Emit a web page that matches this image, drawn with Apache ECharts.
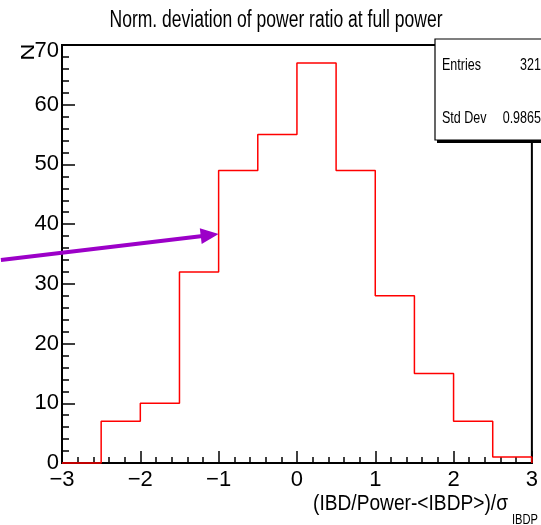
<!DOCTYPE html>
<html>
<head>
<meta charset="utf-8">
<style>html,body{margin:0;padding:0;background:#fff;}#c{width:541px;height:525px;}</style>
<script src="https://cdn.jsdelivr.net/npm/echarts@6/dist/echarts.min.js"></script>
</head>
<body>
<div id="c"></div>
<script>
const binEdges = [-3, -2.5, -2, -1.5, -1, -0.5, 0, 0.5, 1, 1.5, 2, 2.5, 3];
const counts = [0, 7, 10, 32, 49, 55, 67, 49, 28, 15, 7, 1];
const xTicks = [-3, -2, -1, 0, 1, 2, 3];
const yTicks = [0, 10, 20, 30, 40, 50, 60, 70];
const statsLabels = ['Entries', 'Std Dev'];
const statsValues = ['321', '0.9865'];
const arrowFrom = [-3.78, 34.0];
const arrowTo = [-1.0, 38.35];
const titleText = 'Norm. deviation of power ratio at full power';
const xTitleMain = '(IBD/Power-<IBDP>)/σ';
const xTitleSub = 'IBDP';
const yTitle = 'N';

const FAM = "'Liberation Sans', Arial, Helvetica, sans-serif";

const histData = [];
for (let i = 0; i < counts.length; i++) histData.push([binEdges[i], counts[i]]);
histData.push([binEdges[binEdges.length - 1], 0]);

const mctx = document.createElement('canvas').getContext('2d');
function fit(text, size, targetW) {
  mctx.font = size + 'px ' + FAM;
  return targetW / mctx.measureText(text).width;
}
function txt(text, size, x, y, align, sx, rot) {
  return {type: 'text', z: 62, x: x, y: y, scaleX: rot ? 1 : sx, scaleY: rot ? sx : 1, rotation: rot || 0,
    style: {text: text, font: size + 'px ' + FAM, fill: '#000', align: align, verticalAlign: 'middle'}};
}

const chart = echarts.init(document.getElementById('c'), null, {renderer: 'canvas'});

const option = {
  animation: false,
  backgroundColor: '#fff',
  grid: {left: 62, right: 2, top: 45, bottom: 62, show: true, borderColor: '#000', borderWidth: 2, backgroundColor: 'transparent'},
  xAxis: {
    type: 'value', min: xTicks[0], max: xTicks[xTicks.length - 1], interval: 1,
    axisLine: {show: true, onZero: false, lineStyle: {color: '#000', width: 2}},
    axisTick: {show: true, inside: true, length: 12, lineStyle: {color: '#000', width: 1.5}},
    minorTick: {show: true, splitNumber: 5, length: 6, lineStyle: {color: '#000', width: 1.5}},
    splitLine: {show: false},
    axisLabel: {margin: 6, fontFamily: FAM, fontSize: 22, color: '#000',
      formatter: v => String(v).replace('-', '\u2212')}
  },
  yAxis: {
    type: 'value', min: yTicks[0], max: yTicks[yTicks.length - 1], interval: 10,
    axisLine: {show: true, onZero: false, lineStyle: {color: '#000', width: 2}},
    axisTick: {show: true, inside: true, length: 13, lineStyle: {color: '#000', width: 1.5}},
    minorTick: {show: true, splitNumber: 5, length: 7, lineStyle: {color: '#000', width: 1.5}},
    splitLine: {show: false},
    axisLabel: {margin: 3, fontFamily: FAM, fontSize: 22, color: '#000',
      formatter: v => v === yTicks[yTicks.length - 1] ? '{t|' + v + '}' : String(v),
      rich: {t: {fontFamily: FAM, fontSize: 22, color: '#000', padding: [12, 0, 0, 0]}}}
  },
  series: [{
    type: 'line', data: histData, step: 'end', symbol: 'none', clip: false,
    lineStyle: {color: '#ff0000', width: 1.5}, z: 3
  }]
};
chart.setOption(option);

const p1 = chart.convertToPixel({gridIndex: 0}, arrowFrom);
const p2 = chart.convertToPixel({gridIndex: 0}, arrowTo);
const dx = p2[0] - p1[0], dy = p2[1] - p1[1];
const len = Math.sqrt(dx * dx + dy * dy);
const ux = dx / len, uy = dy / len;
const headL = 18, headW = 8;
const bx = p2[0] - ux * headL, by = p2[1] - uy * headL;
const arrowPurple = '#9c00c8';

const sTitle = fit(titleText, 23, 333);
const sStats = fit(statsLabels[0], 17, 39);
const sX = fit(xTitleMain, 22, 195);
const sSub = fit(xTitleSub, 14, 26);

chart.setOption({
  graphic: [
    {type: 'line', z: 50, shape: {x1: p1[0], y1: p1[1], x2: bx + ux * 2, y2: by + uy * 2},
      style: {stroke: arrowPurple, lineWidth: 4}},
    {type: 'polygon', z: 50, shape: {points: [[p2[0], p2[1]], [bx - uy * headW, by + ux * headW], [bx + uy * headW, by - ux * headW]]},
      style: {fill: arrowPurple}},
    {type: 'rect', z: 60, shape: {x: 437, y: 41, width: 120, height: 102}, style: {fill: '#000'}},
    {type: 'rect', z: 61, shape: {x: 435, y: 39, width: 120, height: 101}, style: {fill: '#fff', stroke: '#000', lineWidth: 1.2}},
    txt(titleText, 23, 276, 21, 'center', sTitle),
    txt(statsLabels[0], 17, 442, 65.5, 'left', sStats),
    txt(statsValues[0], 17, 541, 65.5, 'right', sStats),
    txt(statsLabels[1], 17, 442, 118.5, 'left', sStats),
    txt(statsValues[1], 17, 541, 118.5, 'right', sStats),
    txt(xTitleMain, 22, 508, 504, 'right', sX),
    txt(xTitleSub, 14, 512, 520, 'left', sSub),
    txt(yTitle, 24, 29, 52, 'center', 0.8, Math.PI / 2)
  ]
});
</script>
</body>
</html>
